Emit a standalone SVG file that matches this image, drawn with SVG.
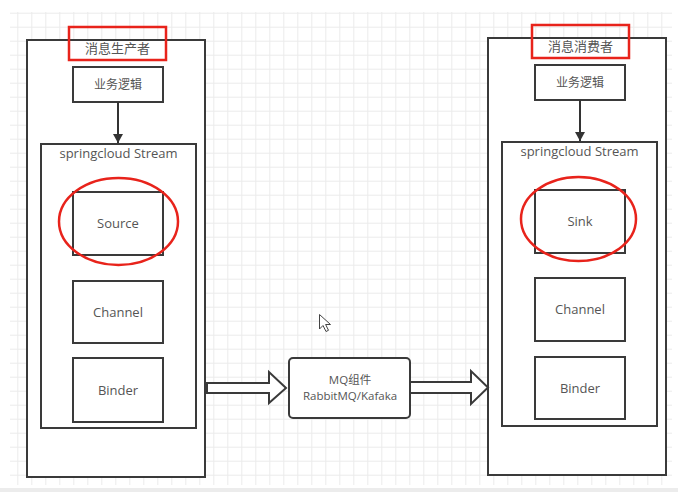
<svg xmlns="http://www.w3.org/2000/svg" width="678" height="492" viewBox="0 0 678 492">
<defs>
<pattern id="grid" x="3.3" y="12.7" width="14" height="14" patternUnits="userSpaceOnUse">
<path d="M0 0.5H14M0.5 0V14" fill="none" stroke="#ebebeb" stroke-width="1"/>
</pattern>
<marker id="arr" markerWidth="10" markerHeight="10" refX="9" refY="5" orient="auto" markerUnits="userSpaceOnUse">
<path d="M0 0L9 5L0 10Z" fill="#333"/>
</marker>
</defs>
<style>
.box{fill:#fff;stroke:#3a3a3a;stroke-width:2}
.frame{fill:none;stroke:#3a3a3a;stroke-width:2}
.red{fill:none;stroke:#e8231b;stroke-width:2.5}
.t{font-family:"Open Sans","Noto Sans CJK SC",sans-serif;fill:#555;text-anchor:middle}
.big{fill:#fff;stroke:#3a3a3a;stroke-width:2;stroke-linejoin:miter}
.line{stroke:#333;stroke-width:2;fill:none}
</style>
<rect x="0" y="0" width="678" height="492" fill="#fff"/>
<rect x="10" y="12" width="662" height="473" fill="url(#grid)"/>
<rect x="0" y="488" width="678" height="4" fill="#ececec"/>

<g id="producer">
<rect class="box" x="27" y="40" width="178" height="437"/>
<rect class="red" x="69" y="27" width="97" height="33"/>
<text class="t" x="117.5" y="53" font-size="13">消息生产者</text>
</g>
<g id="producer-logic">
<rect class="box" x="73" y="67" width="90" height="35"/>
<text class="t" x="118" y="89" font-size="12">业务逻辑</text>
</g>
<g id="producer-stream">
<rect class="box" x="41" y="144" width="155" height="284"/>
<text class="t" x="118.5" y="158" font-size="13">springcloud Stream</text>
</g>
<g id="source">
<rect class="box" x="73" y="192" width="90" height="63"/>
<text class="t" x="118" y="228" font-size="13">Source</text>
<ellipse class="red" cx="118.5" cy="221.5" rx="59.5" ry="43.5"/>
</g>
<g id="producer-channel">
<rect class="box" x="73" y="281" width="90" height="62"/>
<text class="t" x="118" y="317" font-size="13">Channel</text>
</g>
<g id="producer-binder">
<rect class="box" x="73" y="358" width="90" height="64"/>
<text class="t" x="118" y="395" font-size="13">Binder</text>
</g>

<g id="consumer">
<rect class="box" x="488" y="38" width="178" height="437"/>
<rect class="red" x="532" y="25" width="97" height="33"/>
<text class="t" x="580.5" y="51" font-size="13">消息消费者</text>
</g>
<g id="consumer-logic">
<rect class="box" x="535" y="65" width="90" height="35"/>
<text class="t" x="580" y="87" font-size="12">业务逻辑</text>
</g>
<g id="consumer-stream">
<rect class="box" x="502" y="142" width="155" height="284"/>
<text class="t" x="579.5" y="156" font-size="13">springcloud Stream</text>
</g>
<g id="sink">
<rect class="box" x="535" y="190" width="90" height="63"/>
<text class="t" x="580" y="226" font-size="13">Sink</text>
<ellipse class="red" cx="578.5" cy="219" rx="57.5" ry="42"/>
</g>
<g id="consumer-channel">
<rect class="box" x="535" y="278" width="90" height="63"/>
<text class="t" x="580" y="314" font-size="13">Channel</text>
</g>
<g id="consumer-binder">
<rect class="box" x="535" y="357" width="90" height="62"/>
<text class="t" x="580" y="393" font-size="13">Binder</text>
</g>

<g id="mq">
<rect class="box" x="289" y="358" width="121" height="60" rx="4"/>
<text class="t" x="350" y="384" font-size="11.5">MQ组件</text>
<text class="t" x="350" y="400" font-size="11.5">RabbitMQ/Kafaka</text>
</g>

<g id="connectors">
<line class="line" x1="118" y1="102" x2="118" y2="143" marker-end="url(#arr)"/>
<line class="line" x1="580" y1="100" x2="580" y2="141" marker-end="url(#arr)"/>
<path class="big" d="M207 383H269V372L286 388L269 403V393H207Z"/>
<path class="big" d="M410 382H471V371L488 387.5L471 404V393H410Z"/>
</g>

<g id="cursor">
<path d="M319.5 314.5V329L323 325.5L326 331.5L328.5 330.3L325.6 324.5H330.5Z" fill="#fff" stroke="#444" stroke-width="1" stroke-linejoin="round"/>
</g>
</svg>
